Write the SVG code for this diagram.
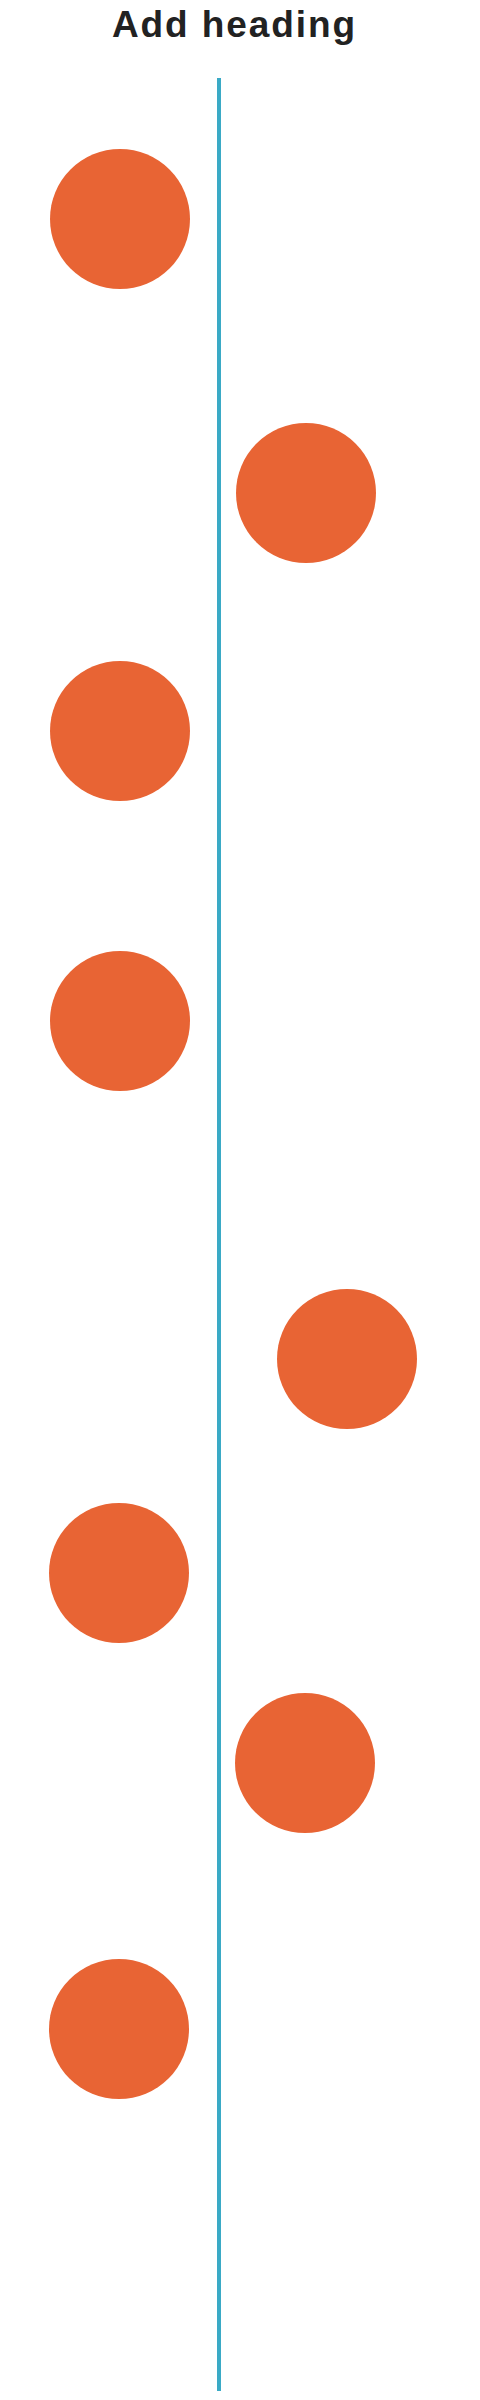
<svg xmlns="http://www.w3.org/2000/svg" width="480" height="2400" viewBox="0 0 480 2400">
<style>
.dot{fill:#E86434}
.title{font-family:"Liberation Sans","Open Sans",Arial,sans-serif;font-weight:bold;font-size:37px;fill:#222222}
</style>
<rect width="480" height="2400" fill="#ffffff"/>
<text class="title" x="112" y="37" textLength="243" lengthAdjust="spacing">Add heading</text>
<g id="connectors">
<line x1="219" y1="78" x2="219" y2="2391" stroke="#3AAAC6" stroke-width="4"/>
</g>
<g id="node1"><circle class="dot" cx="120" cy="219" r="70"/></g>
<g id="node2"><circle class="dot" cx="306" cy="493" r="70"/></g>
<g id="node3"><circle class="dot" cx="120" cy="731" r="70"/></g>
<g id="node4"><circle class="dot" cx="120" cy="1021" r="70"/></g>
<g id="node5"><circle class="dot" cx="347" cy="1359" r="70"/></g>
<g id="node6"><circle class="dot" cx="119" cy="1573" r="70"/></g>
<g id="node7"><circle class="dot" cx="305" cy="1763" r="70"/></g>
<g id="node8"><circle class="dot" cx="119" cy="2029" r="70"/></g>
</svg>
